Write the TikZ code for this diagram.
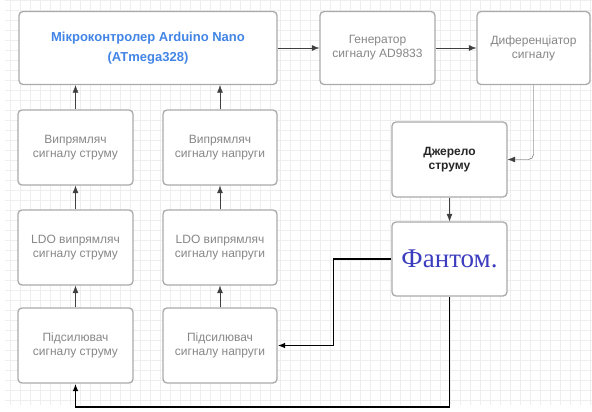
\documentclass[tikz,border=0pt]{standalone}
\usepackage{fontspec}
\setmainfont{Liberation Sans}
\newfontfamily\phfont{Liberation Serif}
\usetikzlibrary{arrows.meta}
\definecolor{boxcol}{RGB}{170,170,170}
\definecolor{txtcol}{RGB}{135,135,135}
\definecolor{mcucol}{RGB}{66,133,230}
\definecolor{phcol}{RGB}{60,60,190}
\definecolor{gridcol}{RGB}{238,238,238}

\begin{document}
\begin{tikzpicture}[
  x=1pt,y=-1pt,
  >={Latex[length=2.6mm,width=2mm]},
  blk/.style={draw=boxcol,line width=1.3pt,rounded corners=4pt,fill=white,
              align=center,text=txtcol,font=\fontsize{12}{14}\selectfont,
              minimum height=75pt,inner sep=1pt},
  wblk/.style={blk,minimum width=115pt},
  sig/.style={->,thin,black!75},
  fb/.style={->,line width=1.7pt,black},
]
  \useasboundingbox (0,0) rectangle (592,412);

  % --- grid ---
  \draw[gridcol,thin] (5,0) grid[step=10pt] (592,405);

  % --- top row ---
  \node[blk,minimum width=258pt,minimum height=73pt,text=mcucol,
        font=\fontsize{13}{20}\selectfont\bfseries] (mcu) at (148,48)
        {Мікроконтролер Arduino Nano\\(ATmega328)};
  \node[wblk,minimum height=73pt] (gen) at (377.5,48) {Генератор\\сигналу AD9833};
  \node[blk,minimum width=113pt,minimum height=73pt] (diff) at (533.5,48)
        {Диференціатор\\сигналу};

  % --- source and phantom ---
  \node[wblk,text=black!85,font=\fontsize{12}{14}\selectfont\bfseries] (src) at (449.5,159.5)
        {Джерело\\струму};
  \node[wblk,minimum height=74pt,text=phcol,font=\phfont\fontsize{27}{30}\selectfont] (ph) at (449.5,259)
        {Фантом.};

  % --- current channel ---
  \node[wblk] (rectI) at (75.5,147.5) {Випрямляч\\сигналу струму};
  \node[wblk] (ldoI)  at (75.5,247.5) {LDO випрямляч\\сигналу струму};
  \node[wblk] (ampI)  at (75.5,345.5) {Підсилювач\\сигналу струму};

  % --- voltage channel ---
  \node[blk,minimum width=114pt] (rectU) at (220,147.5) {Випрямляч\\сигналу напруги};
  \node[blk,minimum width=114pt] (ldoU)  at (220,247.5) {LDO випрямляч\\сигналу напруги};
  \node[blk,minimum width=114pt] (ampU)  at (220,345.5) {Підсилювач\\сигналу напруги};

  % --- signal path ---
  \draw[sig] (mcu) -- (gen);
  \draw[sig] (gen) -- (diff);
  \draw[sig,rounded corners=5pt] (diff.south) |- (src.east);
  \draw[sig] (src) -- (ph);

  \draw[sig] (ampI) -- (ldoI);
  \draw[sig] (ldoI) -- (rectI);
  \draw[sig] (rectI) -- (mcu.south -| rectI);
  \draw[sig] (ampU) -- (ldoU);
  \draw[sig] (ldoU) -- (rectU);
  \draw[sig] (rectU) -- (mcu.south -| rectU);

  % --- feedback from phantom ---
  \draw[fb] (ph.west) -- ++(-58,0) |- (ampU.east);
  \draw[fb] (ph.south) -- ++(0,110) -| (ampI.south);

\end{tikzpicture}
\end{document}
